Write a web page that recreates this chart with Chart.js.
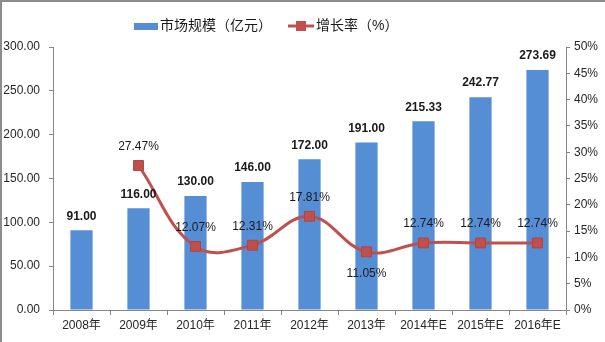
<!DOCTYPE html>
<html>
<head>
<meta charset="utf-8">
<script src="https://cdn.jsdelivr.net/npm/chart.js@4"></script>
<style>
  html, body { margin: 0; padding: 0; background: #fff; }
  #wrap { position: relative; width: 605px; height: 342px; }
</style>
</head>
<body>
<div id="wrap"><canvas id="grafica" width="605" height="342"></canvas></div>
<script>
// Datos
const anios = ["2008年", "2009年", "2010年", "2011年", "2012年", "2013年", "2014年E", "2015年E", "2016年E"];
const mercado = [91.00, 116.00, 130.00, 146.00, 172.00, 191.00, 215.33, 242.77, 273.69];
const crecimiento = [null, 27.47, 12.07, 12.31, 17.81, 11.05, 12.74, 12.74, 12.74];
const nombreMercado = "市场规模（亿元）";
const nombreCrecimiento = "增长率（%）";

const AZUL = "#558ed5";
const ROJO = "#c0504d";
const FUENTE = "'Liberation Sans', Arial, 'Noto Sans CJK SC', sans-serif";

// Etiquetas de valores, leyenda y marco
const pluginEtiquetas = {
  id: "etiquetas",
  afterDatasetsDraw(chart) {
    const ctx = chart.ctx;
    ctx.save();
    ctx.textAlign = "center";
    ctx.textBaseline = "middle";
    ctx.fillStyle = "#1a1a1a";

    // barras
    ctx.font = "bold 12px " + FUENTE;
    chart.getDatasetMeta(0).data.forEach((el, i) => {
      ctx.fillText(mercado[i].toFixed(2), el.x, el.y - 14);
    });

    // linea
    ctx.font = "12px " + FUENTE;
    chart.getDatasetMeta(1).data.forEach((el, i) => {
      const v = crecimiento[i];
      if (v === null) return;
      const abajo = anios[i] === "2013年";
      ctx.fillText(v.toFixed(2) + "%", el.x, abajo ? el.y + 22 : el.y - 19);
    });
    ctx.restore();
  },
  afterDraw(chart) {
    const ctx = chart.ctx;
    ctx.save();
    // leyenda
    ctx.font = "14px " + FUENTE;
    ctx.textBaseline = "middle";
    const y = 26;
    ctx.fillStyle = AZUL;
    ctx.fillRect(134, y - 3, 24, 7);
    ctx.fillStyle = "#1a1a1a";
    ctx.textAlign = "left";
    ctx.fillText(nombreMercado, 160, y);

    ctx.strokeStyle = ROJO;
    ctx.lineWidth = 3;
    ctx.beginPath();
    ctx.moveTo(288, y);
    ctx.lineTo(314, y);
    ctx.stroke();
    ctx.fillStyle = ROJO;
    ctx.fillRect(296, y - 5, 10, 10);
    ctx.fillStyle = "#1a1a1a";
    ctx.fillText(nombreCrecimiento, 316, y);

    // marco superior e izquierdo
    ctx.strokeStyle = "#8c8c8c";
    ctx.lineWidth = 2;
    ctx.beginPath();
    ctx.moveTo(1, chart.height);
    ctx.lineTo(1, 1);
    ctx.lineTo(chart.width, 1);
    ctx.stroke();
    ctx.restore();
  }
};

const ejeColor = "#868686";
const ticksFont = { family: FUENTE, size: 12 };

new Chart(document.getElementById("grafica"), {
  type: "bar",
  data: {
    labels: anios,
    datasets: [
      {
        type: "bar",
        label: nombreMercado,
        data: mercado,
        backgroundColor: AZUL,
        barPercentage: 0.39,
        categoryPercentage: 1,
        yAxisID: "y",
        order: 2
      },
      {
        type: "line",
        label: nombreCrecimiento,
        data: crecimiento,
        borderColor: ROJO,
        backgroundColor: ROJO,
        borderWidth: 3,
        tension: 0.4,
        pointStyle: "rect",
        pointRadius: 7,
        pointBorderColor: "#b04542",
        pointBorderWidth: 1,
        pointBackgroundColor: ROJO,
        yAxisID: "y1",
        order: 1
      }
    ]
  },
  options: {
    responsive: false,
    animation: false,
    devicePixelRatio: 1,
    layout: { padding: { top: 47, left: 0, right: 0, bottom: 0 } },
    plugins: {
      legend: { display: false },
      tooltip: { enabled: false }
    },
    scales: {
      x: {
        grid: { display: true, drawOnChartArea: false, drawTicks: true, tickLength: 5, color: ejeColor, offset: true },
        border: { color: ejeColor, width: 1 },
        ticks: { color: "#262626", font: ticksFont, padding: 3, maxRotation: 0, autoSkip: false },
        afterFit(s) { s.height = 32; }
      },
      y: {
        position: "left",
        min: 0, max: 300,
        grid: { drawOnChartArea: false, drawTicks: true, tickLength: 4, color: ejeColor },
        border: { color: ejeColor, width: 1 },
        ticks: { stepSize: 50, color: "#262626", font: ticksFont, padding: 9, callback: v => v.toFixed(2) },
        afterFit(s) { s.width = 53; }
      },
      y1: {
        position: "right",
        min: 0, max: 50,
        grid: { drawOnChartArea: false, drawTicks: true, tickLength: 4, color: ejeColor },
        border: { color: ejeColor, width: 1 },
        ticks: { stepSize: 5, color: "#262626", font: ticksFont, padding: 4, callback: v => v + "%" },
        afterFit(s) { s.width = 39; }
      }
    }
  },
  plugins: [pluginEtiquetas]
});
</script>
</body>
</html>
